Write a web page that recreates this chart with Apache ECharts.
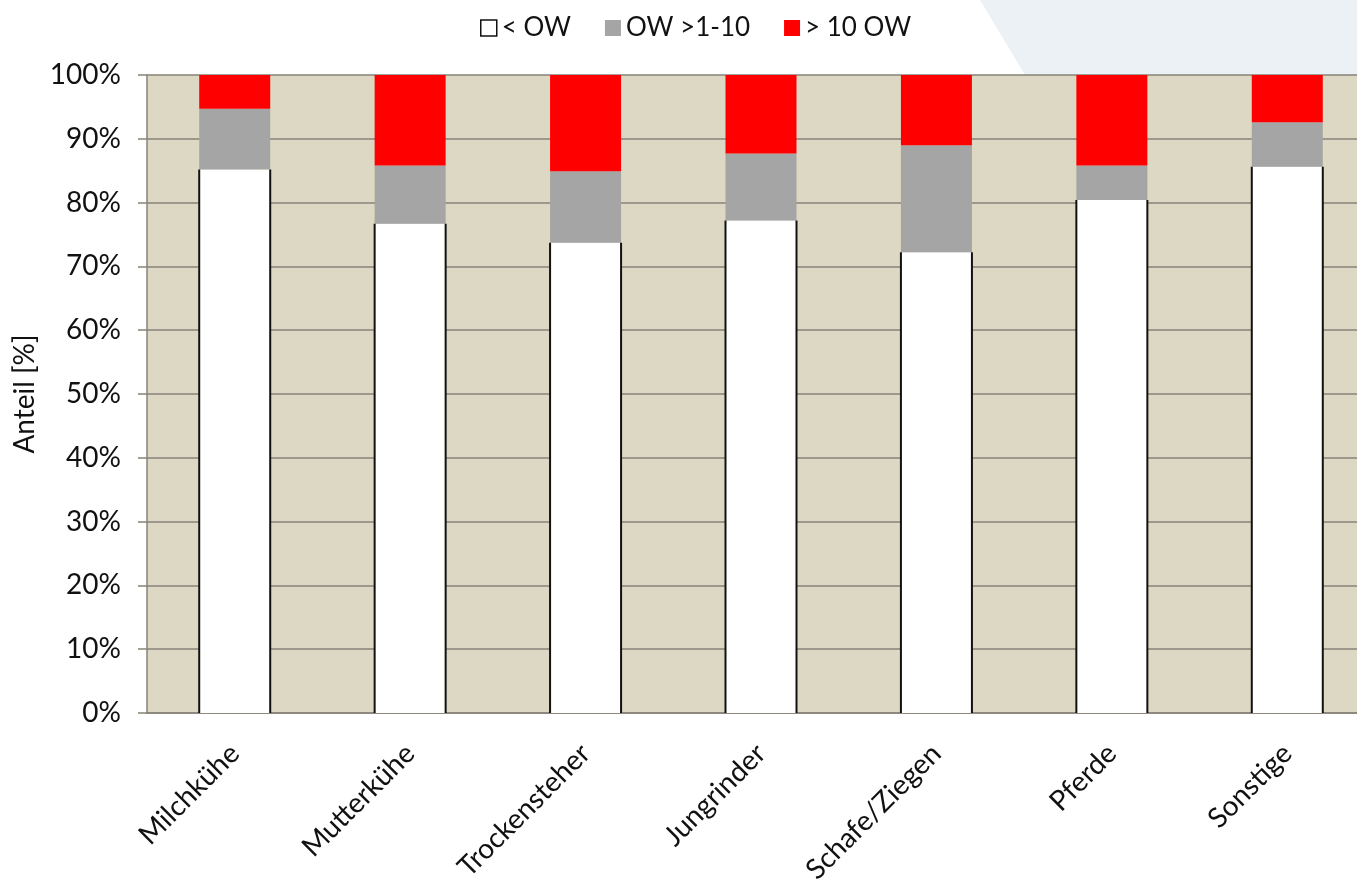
<!DOCTYPE html>
<html>
<head>
<meta charset="utf-8">
<script src="https://cdn.jsdelivr.net/npm/echarts@6/dist/echarts.min.js"></script>
<style>
  html, body { margin: 0; padding: 0; background: #ffffff; }
  #chart { width: 1357px; height: 880px; }
</style>
</head>
<body>
<div id="chart"></div>
<script>
// Animal groups on the category axis
const categories = ['Milchkühe', 'Mutterkühe', 'Trockensteher', 'Jungrinder', 'Schafe/Ziegen', 'Pferde', 'Sonstige'];
// Shares per group (percent), stacked to 100
const belowOW = [85.2, 76.7, 73.7, 77.2, 72.2, 80.4, 85.6];
const ow1to10 = [9.5, 9.1, 11.2, 10.5, 16.8, 5.4, 7.0];
const over10 = [5.3, 14.2, 15.1, 12.3, 11.0, 14.2, 7.4];
const seriesNames = ['< OW', 'OW >1-10', '> 10 OW'];
const yTicks = [0, 10, 20, 30, 40, 50, 60, 70, 80, 90, 100];

const FONT = 'Lato, "Open Sans", sans-serif';
const chart = echarts.init(document.getElementById('chart'), null, { renderer: 'canvas' });

const option = {
  animation: false,
  backgroundColor: '#ffffff',
  graphic: [{
    type: 'polygon',
    z: -10,
    shape: { points: [[980, 0], [1357, 0], [1357, 75], [1025, 75]] },
    style: { fill: '#ecf1f5' }
  }],
  legend: {
    top: 10,
    left: 475,
    icon: 'rect',
    itemWidth: 16,
    itemHeight: 16,
    itemGap: 34,
    textStyle: { fontFamily: FONT, fontSize: 26, color: '#111' },
    data: [
      { name: seriesNames[0], itemStyle: { color: '#ffffff', borderColor: '#111', borderWidth: 1.5 } },
      { name: seriesNames[1] },
      { name: seriesNames[2] }
    ]
  },
  grid: {
    left: 147,
    top: 75,
    width: 1228,
    height: 638,
    outerBoundsMode: 'none',
    containLabel: false,
    show: true,
    backgroundColor: '#ddd8c3',
    borderWidth: 0
  },
  xAxis: {
    type: 'category',
    data: categories,
    axisLine: { show: true, lineStyle: { color: '#868378', width: 1.5 } },
    axisTick: { show: false },
    axisLabel: {
      rotate: 45,
      interval: 0,
      margin: 36,
      fontFamily: FONT,
      fontSize: 28,
      color: '#111'
    }
  },
  yAxis: {
    type: 'value',
    min: 0,
    max: 100,
    interval: 10,
    name: 'Anteil [%]',
    nameLocation: 'middle',
    nameGap: 104,
    nameRotate: 90,
    nameTextStyle: { fontFamily: FONT, fontSize: 28, color: '#111' },
    axisLine: { show: true, lineStyle: { color: '#868378', width: 1.5 } },
    axisTick: { show: true, length: 9, lineStyle: { color: '#868378', width: 1.5 } },
    splitLine: { show: true, lineStyle: { color: '#868378', width: 1.5 } },
    axisLabel: {
      margin: 26,
      fontFamily: FONT,
      fontSize: 28,
      color: '#111',
      formatter: v => (yTicks.includes(v) ? v + '%' : '')
    }
  },
  series: [
    {
      name: seriesNames[0],
      type: 'bar',
      stack: 'share',
      barWidth: 71,
      data: belowOW,
      itemStyle: { color: '#ffffff' }
    },
    {
      name: seriesNames[1],
      type: 'bar',
      stack: 'share',
      data: ow1to10,
      itemStyle: { color: '#a5a5a5' }
    },
    {
      name: seriesNames[2],
      type: 'bar',
      stack: 'share',
      data: over10,
      itemStyle: { color: '#ff0000' }
    },
    {
      // dark side edges of the white segments
      type: 'custom',
      silent: true,
      z: 5,
      data: belowOW.map((v, i) => [i, v]),
      renderItem: (params, api) => {
        const base = api.coord([api.value(0), 0]);
        const top = api.coord([api.value(0), api.value(1)]);
        const half = 71 / 2;
        const style = { stroke: '#111', lineWidth: 2, fill: null };
        return {
          type: 'group',
          children: [
            { type: 'line', shape: { x1: base[0] - half, y1: base[1], x2: top[0] - half, y2: top[1] }, style },
            { type: 'line', shape: { x1: base[0] + half, y1: base[1], x2: top[0] + half, y2: top[1] }, style }
          ]
        };
      }
    }
  ]
};

chart.setOption(option);
</script>
</body>
</html>
